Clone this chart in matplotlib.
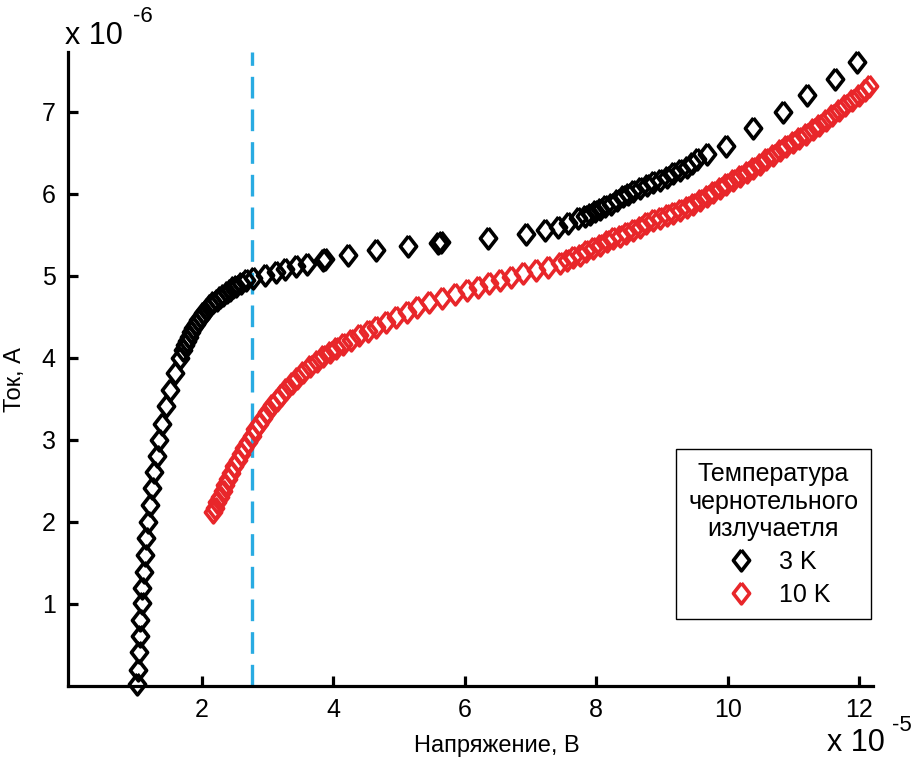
import matplotlib
matplotlib.use("Agg")
import matplotlib.pyplot as plt

plt.rcParams['font.family'] = ['Liberation Sans', 'DejaVu Sans']

# voltage in units of 1e-5 V, current in units of 1e-6 A
x_3k = [1.02, 1.03, 1.05, 1.06, 1.07, 1.09, 1.10, 1.12, 1.14, 1.16, 1.19, 1.21, 1.24, 1.27,
        1.32, 1.36, 1.40, 1.46, 1.52, 1.59, 1.67,
        1.72, 1.75, 1.78, 1.81, 1.84, 1.87, 1.91, 1.95, 1.99, 2.03, 2.08, 2.13, 2.18, 2.23,
        2.28, 2.33, 2.38, 2.43, 2.48, 2.53, 2.60, 2.68, 2.78,
        2.96, 3.13, 3.27, 3.43, 3.60, 3.85, 3.88, 4.23, 4.66, 5.14, 5.60, 5.64, 6.36, 6.94,
        7.22, 7.42, 7.57, 7.73, 7.83, 7.91, 7.98, 8.06, 8.14, 8.23, 8.32, 8.41, 8.48, 8.56,
        8.66, 8.77, 8.87, 8.97, 9.07, 9.17, 9.27, 9.38, 9.46, 9.53, 9.68, 9.98, 10.39, 10.84,
        11.20, 11.63, 11.97]
y_3k = [0.03, 0.20, 0.41, 0.61, 0.81, 1.01, 1.19, 1.39, 1.60, 1.80, 2.00, 2.21, 2.41, 2.61,
        2.80, 3.00, 3.20, 3.41, 3.61, 3.81, 4.00,
        4.10, 4.16, 4.21, 4.26, 4.31, 4.36, 4.41, 4.46, 4.50, 4.55, 4.60, 4.65, 4.68, 4.71,
        4.74, 4.77, 4.80, 4.83, 4.86, 4.88, 4.91, 4.95, 4.97,
        5.01, 5.05, 5.08, 5.12, 5.15, 5.19, 5.20, 5.26, 5.31, 5.36, 5.40, 5.41, 5.46, 5.51,
        5.56, 5.60, 5.65, 5.70, 5.73, 5.76, 5.79, 5.82, 5.85, 5.88, 5.92, 5.97, 6.00, 6.03,
        6.07, 6.11, 6.14, 6.17, 6.21, 6.25, 6.29, 6.33, 6.38, 6.42, 6.49, 6.58, 6.80, 7.00,
        7.21, 7.40, 7.61]

x_10k = [2.17, 2.20, 2.24, 2.28, 2.32, 2.36, 2.40, 2.45, 2.50, 2.55, 2.60, 2.65, 2.70, 2.76,
         2.82, 2.88, 2.94, 3.00, 3.07, 3.14, 3.21, 3.29, 3.37, 3.45, 3.55, 3.65, 3.75, 3.85,
         3.95, 4.05, 4.15, 4.27, 4.40, 4.53, 4.66, 4.80, 4.96, 5.12, 5.27, 5.46, 5.65, 5.85,
         6.03, 6.21, 6.37, 6.54, 6.71, 6.89, 7.09, 7.27, 7.45, 7.55, 7.65, 7.75, 7.85, 7.95,
         8.06, 8.16, 8.26, 8.36, 8.46, 8.56, 8.66, 8.76, 8.87, 8.97, 9.07, 9.17, 9.27, 9.38,
         9.48, 9.58, 9.68, 9.78, 9.88, 9.98, 10.08, 10.18, 10.29, 10.39, 10.49, 10.59, 10.69,
         10.79, 10.89, 10.99, 11.09, 11.19, 11.29, 11.39, 11.49, 11.59, 11.69, 11.79, 11.89,
         11.99, 12.09, 12.15]
y_10k = [2.12, 2.17, 2.24, 2.31, 2.38, 2.45, 2.52, 2.60, 2.68, 2.76, 2.83, 2.90, 2.97, 3.05,
         3.13, 3.20, 3.27, 3.34, 3.42, 3.49, 3.55, 3.62, 3.69, 3.75, 3.83, 3.90, 3.96, 4.02,
         4.07, 4.12, 4.17, 4.22, 4.28, 4.33, 4.38, 4.44, 4.50, 4.56, 4.62, 4.68, 4.73, 4.78,
         4.83, 4.87, 4.91, 4.95, 4.99, 5.03, 5.07, 5.11, 5.16, 5.19, 5.23, 5.26, 5.30, 5.34,
         5.38, 5.42, 5.46, 5.49, 5.52, 5.56, 5.60, 5.64, 5.68, 5.71, 5.74, 5.77, 5.80, 5.84,
         5.88, 5.92, 5.97, 6.02, 6.07, 6.12, 6.17, 6.22, 6.27, 6.32, 6.37, 6.42, 6.47,
         6.53, 6.58, 6.63, 6.68, 6.73, 6.79, 6.84, 6.90, 6.96, 7.02, 7.08, 7.14,
         7.20, 7.27, 7.31]

v_marker = 2.775
x_ticks = [2, 4, 6, 8, 10, 12]
y_ticks = [1, 2, 3, 4, 5, 6, 7]
legend_title = "Температура\nчернотельного\nизлучаетля"
labels = ["3 K", "10 K"]

# matlab-like diamond, a bit narrower than tall
diamond = [(0, 1), (0.78, 0), (0, -1), (-0.78, 0), (0, 1)]

fig = plt.figure(figsize=(9.13, 7.6), dpi=100)
ax = fig.add_axes([0.0745, 0.0974, 0.8817, 0.8342])

ax.plot(x_3k, y_3k, linestyle='none', marker=diamond, markersize=15, clip_on=False,
        markerfacecolor='none', markeredgecolor='black', markeredgewidth=2.6, label=labels[0])
ax.plot(x_10k, y_10k, linestyle='none', marker=diamond, markersize=15, clip_on=False,
        markerfacecolor='none', markeredgecolor='#e8262a', markeredgewidth=2.6, label=labels[1])
ax.axvline(v_marker, color='#29abe2', linestyle=(0, (6.5, 3.3)), linewidth=2.4, zorder=0)

ax.set_xlim(-0.03, 12.21)
ax.set_ylim(0, 7.73)
ax.set_xticks(x_ticks)
ax.set_yticks(y_ticks)
ax.tick_params(direction='in', length=7, width=2.3, labelsize=18, pad=9)
for side in ['top', 'right']:
    ax.spines[side].set_visible(False)
for side in ['left', 'bottom']:
    ax.spines[side].set_linewidth(2.3)

ax.set_xlabel("Напряжение, В", fontsize=17)
ax.xaxis.set_label_coords(0.533, -0.077)
ax.set_ylabel("Ток, А", fontsize=17)
ax.yaxis.set_label_coords(-0.052, 0.483)

# matlab style exponent labels
fig.text(0.071, 0.953, "x 10", fontsize=22, va='center', ha='left')
fig.text(0.146, 0.978, "-6", fontsize=16, va='center', ha='left')
fig.text(0.906, 0.022, "x 10", fontsize=22, va='center', ha='left')
fig.text(0.977, 0.045, "-5", fontsize=16, va='center', ha='left')

leg = ax.legend(title=legend_title, loc='upper right', bbox_to_anchor=(0.9537, 0.4088),
                bbox_transform=fig.transFigure, borderaxespad=0, fontsize=18,
                title_fontsize=18, fancybox=False, edgecolor='black', framealpha=1,
                handletextpad=0.55, labelspacing=0.35, borderpad=0.5)
leg.get_title().set_multialignment('center')
leg.get_frame().set_linewidth(1.0)

fig.savefig("out.png", dpi=100)
